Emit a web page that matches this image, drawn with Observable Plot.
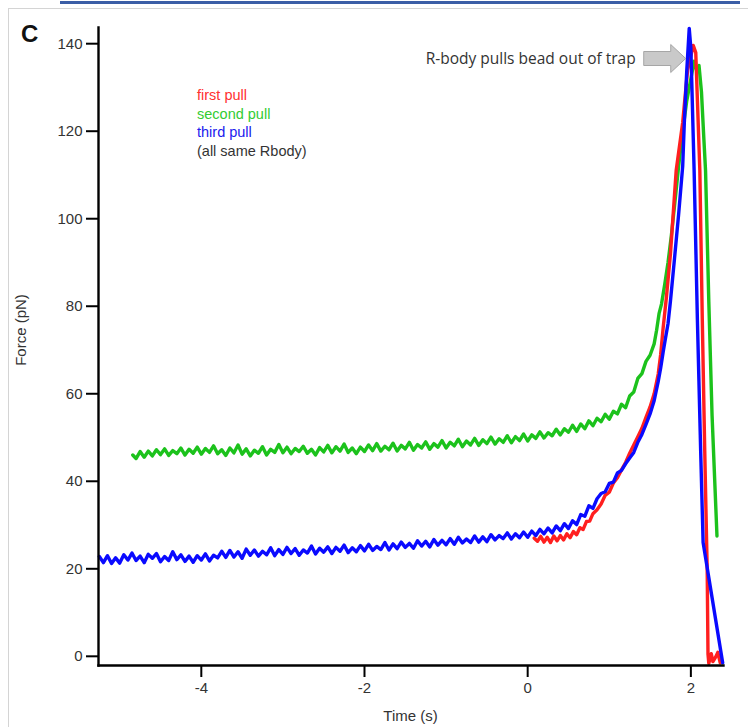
<!DOCTYPE html>
<html>
<head>
<meta charset="utf-8">
<script src="https://cdn.jsdelivr.net/npm/d3@7"></script>
<script src="https://cdn.jsdelivr.net/npm/@observablehq/plot@0.6"></script>
<style>
  html, body { margin: 0; padding: 0; background: #fff; }
  #wrap { position: relative; width: 748px; height: 727px; overflow: hidden; font-family: "Liberation Sans", Arial, sans-serif; }
  #wrap svg { position: absolute; left: 0; top: 0; }
  .deco { position: absolute; }
</style>
</head>
<body>
<div id="wrap">
  <div class="deco" style="left:60px;top:1px;width:680px;height:3px;background:#3b5ea6;"></div>
  <div class="deco" style="left:8px;top:8px;width:740px;height:1px;background:#d4d4d4;"></div>
  <div class="deco" style="left:8px;top:8px;width:1px;height:719px;background:#d4d4d4;"></div>
</div>
<script>
// ---- data (time in s, force in pN) ----
const seriesNames = ["first pull", "second pull", "third pull"];
const seriesColors = ["#ff1f1f", "#1cc21c", "#0a0aff"];
const legendLines = ["first pull", "second pull", "third pull", "(all same Rbody)"];
const legendColors = ["#ff3030", "#33cc33", "#2020ee", "#333333"];
const xTicks = [-4, -2, 0, 2];
const yTicks = [0, 20, 40, 60, 80, 100, 120, 140];
const xDomain = [-5.26, 2.40];
const yDomain = [-2.1, 143.7];
const annotationText = "R-body pulls bead out of trap";

const firstPull = [
  [0.08,27.0],[0.12,26.3],[0.16,27.4],[0.20,26.1],[0.24,27.2],[0.28,26.0],[0.32,27.5],[0.36,26.4],
  [0.40,27.6],[0.44,26.6],[0.48,28.0],[0.52,27.1],[0.56,28.5],[0.60,27.8],[0.64,29.4],[0.68,29.0],
  [0.72,30.8],[0.76,30.9],[0.80,32.6],[0.85,33.5],[0.90,34.8],[0.95,36.8],[1.00,37.5],[1.05,39.6],
  [1.10,40.8],[1.15,42.6],[1.20,44.3],[1.25,46.4],[1.30,48.3],[1.35,50.2],[1.40,52.1],[1.45,54.6],
  [1.50,57.0],[1.55,60.0],[1.60,64.5],[1.63,69.0],[1.66,75.0],[1.70,82.0],[1.75,92.0],[1.82,111.0],
  [1.90,122.0],[1.96,134.0],[2.03,139.6],[2.06,138.0],[2.11,111.0],[2.14,77.0],[2.17,47.0],[2.20,20.0],
  [2.21,0.5],[2.22,-1.6],[2.25,0.6],[2.27,-1.2],[2.30,-0.3],[2.33,0.9],[2.36,-1.5]
];

const secondPull = [
  [-4.84,46.0],[-4.80,45.2],[-4.75,46.8],[-4.70,45.5],[-4.65,46.9],[-4.60,45.8],[-4.55,47.2],[-4.50,46.1],
  [-4.45,47.4],[-4.40,45.9],[-4.35,47.0],[-4.30,46.3],[-4.25,47.6],[-4.20,46.0],[-4.15,47.3],[-4.10,46.4],
  [-4.05,47.8],[-4.00,46.2],[-3.95,47.5],[-3.90,46.6],[-3.85,48.1],[-3.80,46.3],[-3.75,47.2],[-3.70,45.9],
  [-3.65,47.6],[-3.60,46.5],[-3.55,48.3],[-3.50,46.2],[-3.45,47.4],[-3.40,45.8],[-3.35,47.1],[-3.30,46.4],
  [-3.25,47.9],[-3.20,46.0],[-3.15,47.3],[-3.10,46.6],[-3.05,48.4],[-3.00,46.5],[-2.95,47.8],[-2.90,46.3],
  [-2.85,47.5],[-2.80,46.8],[-2.75,48.0],[-2.70,46.4],[-2.65,47.3],[-2.60,46.0],[-2.55,47.7],[-2.50,46.7],
  [-2.45,48.2],[-2.40,46.5],[-2.35,47.9],[-2.30,46.9],[-2.25,48.5],[-2.20,46.6],[-2.15,47.6],[-2.10,46.3],
  [-2.05,47.8],[-2.00,46.8],[-1.95,48.3],[-1.90,47.0],[-1.85,48.6],[-1.80,46.9],[-1.75,48.0],[-1.70,47.2],
  [-1.65,48.7],[-1.60,46.9],[-1.55,48.2],[-1.50,47.4],[-1.45,48.9],[-1.40,47.1],[-1.35,48.4],[-1.30,47.6],
  [-1.25,49.0],[-1.20,47.3],[-1.15,48.6],[-1.10,47.8],[-1.05,49.3],[-1.00,47.6],[-0.95,48.9],[-0.90,48.1],
  [-0.85,49.6],[-0.80,47.9],[-0.75,49.2],[-0.70,48.3],[-0.65,49.8],[-0.60,48.2],[-0.55,49.5],[-0.50,48.6],
  [-0.45,50.1],[-0.40,48.5],[-0.35,49.7],[-0.30,48.9],[-0.25,50.4],[-0.20,48.8],[-0.15,50.2],[-0.10,49.3],
  [-0.05,50.8],[0.00,49.2],[0.05,50.6],[0.10,49.8],[0.15,51.3],[0.20,49.9],[0.25,51.1],[0.30,50.4],
  [0.35,51.9],[0.40,50.6],[0.45,52.0],[0.50,51.2],[0.55,52.8],[0.60,51.4],[0.65,53.1],[0.70,52.0],
  [0.75,53.8],[0.80,52.7],[0.85,54.4],[0.90,53.6],[0.95,55.3],[1.00,54.2],[1.05,56.0],[1.10,55.4],
  [1.15,57.6],[1.20,56.8],[1.25,59.5],[1.30,60.4],[1.35,63.5],[1.40,64.6],[1.45,67.4],[1.50,68.8],
  [1.55,71.4],[1.58,74.5],[1.61,78.3],[1.64,80.5],[1.68,85.0],[1.72,90.0],[1.76,96.0],[1.80,103.0],
  [1.85,112.0],[1.90,120.0],[1.95,127.0],[2.00,132.0],[2.04,136.0],[2.07,134.0],[2.10,135.0],[2.13,129.0],
  [2.16,118.0],[2.18,111.0],[2.22,81.0],[2.26,55.0],[2.32,27.5]
];

const thirdPull = [
  [-5.25,22.8],[-5.20,21.4],[-5.15,23.0],[-5.10,21.2],[-5.05,22.5],[-5.00,21.3],[-4.95,23.2],[-4.90,22.0],
  [-4.85,23.6],[-4.80,21.9],[-4.75,22.9],[-4.70,21.4],[-4.65,23.3],[-4.60,22.4],[-4.55,23.5],[-4.50,21.6],
  [-4.45,22.8],[-4.40,21.9],[-4.35,23.9],[-4.30,22.1],[-4.25,23.2],[-4.20,21.7],[-4.15,22.9],[-4.10,21.5],
  [-4.05,23.0],[-4.00,22.0],[-3.95,23.4],[-3.90,21.8],[-3.85,23.1],[-3.80,22.5],[-3.75,24.0],[-3.70,22.6],
  [-3.65,24.2],[-3.60,22.7],[-3.55,23.9],[-3.50,22.4],[-3.45,24.5],[-3.40,23.1],[-3.35,24.3],[-3.30,22.9],
  [-3.25,24.0],[-3.20,23.2],[-3.15,24.8],[-3.10,23.0],[-3.05,24.4],[-3.00,23.3],[-2.95,24.9],[-2.90,23.5],
  [-2.85,24.6],[-2.80,23.1],[-2.75,24.3],[-2.70,23.6],[-2.65,25.2],[-2.60,23.4],[-2.55,24.7],[-2.50,23.8],
  [-2.45,25.0],[-2.40,23.5],[-2.35,24.9],[-2.30,24.0],[-2.25,25.4],[-2.20,23.7],[-2.15,24.8],[-2.10,23.9],
  [-2.05,25.3],[-2.00,24.1],[-1.95,25.6],[-1.90,24.2],[-1.85,25.1],[-1.80,24.4],[-1.75,26.0],[-1.70,24.3],
  [-1.65,25.7],[-1.60,24.6],[-1.55,26.1],[-1.50,24.9],[-1.45,25.8],[-1.40,24.7],[-1.35,26.4],[-1.30,25.2],
  [-1.25,26.3],[-1.20,25.0],[-1.15,26.7],[-1.10,25.4],[-1.05,26.5],[-1.00,25.5],[-0.95,26.9],[-0.90,25.6],
  [-0.85,27.2],[-0.80,25.9],[-0.75,26.8],[-0.70,26.0],[-0.65,27.5],[-0.60,26.1],[-0.55,27.3],[-0.50,26.2],
  [-0.45,27.8],[-0.40,26.6],[-0.35,27.6],[-0.30,26.9],[-0.25,28.2],[-0.20,26.8],[-0.15,28.0],[-0.10,27.1],
  [-0.05,28.4],[0.00,27.2],[0.05,28.6],[0.10,27.6],[0.15,29.0],[0.20,28.0],[0.25,29.3],[0.30,28.2],
  [0.35,29.8],[0.40,28.7],[0.45,30.3],[0.50,29.2],[0.55,31.0],[0.60,30.1],[0.65,32.4],[0.70,32.0],
  [0.75,34.4],[0.80,33.8],[0.85,36.0],[0.90,37.2],[0.95,37.6],[1.00,39.5],[1.05,39.8],[1.10,41.9],
  [1.15,42.5],[1.20,44.0],[1.25,45.3],[1.30,46.6],[1.35,48.9],[1.40,50.7],[1.45,53.0],[1.50,55.4],
  [1.55,58.4],[1.60,62.8],[1.63,65.9],[1.66,69.5],[1.69,72.8],[1.72,76.0],[1.75,81.2],[1.80,91.0],
  [1.85,101.0],[1.90,112.0],[1.92,122.0],[1.95,133.9],[1.98,143.5],[2.00,139.0],[2.04,111.0],[2.08,77.0],
  [2.12,47.0],[2.15,26.0],[2.39,-1.5]
];

// ---- build table ----
const seriesData = [firstPull, secondPull, thirdPull];
const drawOrder = [1, 0, 2];
const rows = [];
for (const i of drawOrder) {
  for (const [t, f] of seriesData[i]) rows.push({series: seriesNames[i], t, f});
}

const W = 748, H = 727;
const chart = Plot.plot({
  width: W,
  height: H,
  marginLeft: 98,
  marginRight: 25,
  marginTop: 27,
  marginBottom: 62,
  style: {background: "transparent", fontFamily: "'Liberation Sans', Arial, sans-serif", fontSize: "15px"},
  x: {domain: xDomain},
  y: {domain: yDomain},
  color: {domain: seriesNames, range: seriesColors},
  marks: [
    Plot.line(rows, {x: "t", y: "f", z: "series", stroke: "series", strokeWidth: 3.4, strokeLinejoin: "round", curve: "linear"}),
    Plot.axisX({ticks: xTicks, tickSize: 12, tickPadding: 5, tickFormat: d => String(d), label: null, fontSize: 15, stroke: "black", strokeWidth: 2}),
    Plot.axisY({ticks: yTicks, tickSize: 12, tickPadding: 4, tickFormat: d => String(d), label: null, fontSize: 15, stroke: "black", strokeWidth: 2}),
    Plot.frame({anchor: "left", stroke: "black", strokeWidth: 2.4}),
    Plot.frame({anchor: "bottom", stroke: "black", strokeWidth: 2.4})
  ]
});

const wrap = document.getElementById("wrap");
wrap.appendChild(chart);

const svg = d3.select(chart);
const xs = chart.scale("x"), ys = chart.scale("y");
svg.selectAll("g[aria-label$='tick label']")
  .attr("fill", "#333").attr("font-size", 15).style("font-size", "15px");
svg.selectAll("g[aria-label$='tick label'] text")
  .attr("font-size", 15).style("font-size", "15px");

// axis titles
svg.append("text")
  .attr("x", (98 + (W - 25)) / 2).attr("y", 721)
  .attr("text-anchor", "middle")
  .attr("font-size", 15).attr("fill", "#333")
  .text("Time (s)");
svg.append("text")
  .attr("transform", "translate(26,330) rotate(-90)")
  .attr("text-anchor", "middle")
  .attr("font-size", 15).attr("fill", "#333")
  .text("Force (pN)");

// panel letter
svg.append("text")
  .attr("x", 21).attr("y", 42)
  .attr("text-anchor", "start")
  .attr("font-size", 24).attr("font-weight", "bold").attr("fill", "#111")
  .text("C");

// legend
const lg = svg.append("g").attr("text-anchor", "start").attr("font-size", 14.5);
legendLines.forEach((s, i) => {
  lg.append("text").attr("x", 197).attr("y", 100 + i * 18.5).attr("fill", legendColors[i]).text(s);
});

// annotation with block arrow pointing at the peak
const peakX = xs.apply(1.98), peakY = ys.apply(136.5);
svg.append("text")
  .attr("x", peakX - 53).attr("y", peakY + 5)
  .attr("text-anchor", "end")
  .attr("font-size", 15.5).attr("fill", "#333")
  .attr("font-family", "'Open Sans', 'Noto Sans', sans-serif")
  .text(annotationText);
const ax0 = peakX - 45, ax1 = peakX - 18, ax2 = peakX - 3;
const ay = peakY;
svg.append("path")
  .attr("d", `M${ax0},${ay - 7}L${ax1},${ay - 7}L${ax1},${ay - 14}L${ax2},${ay}L${ax1},${ay + 14}L${ax1},${ay + 7}L${ax0},${ay + 7}Z`)
  .attr("fill", "#c9c9c9").attr("stroke", "#a6a6a6").attr("stroke-width", 1);
</script>
</body>
</html>
